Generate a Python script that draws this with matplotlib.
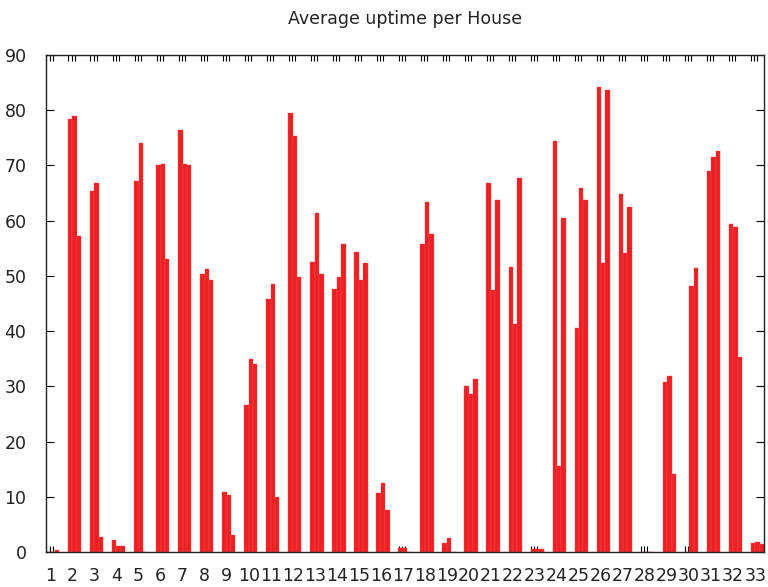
import matplotlib
matplotlib.use('Agg')
import matplotlib.pyplot as plt
import numpy as np

plt.rcParams['font.family'] = ['DejaVu Sans']

# casas (1..33) e as tres medias de uptime de cada uma
casas = [str(i) for i in range(1, 34)]
serie_a = [0, 78.5, 65.4, 2.2, 67.1, 70.1, 76.4, 50.4, 10.8, 26.7, 45.8,
           79.5, 52.6, 47.6, 54.4, 10.7, 0.7, 55.7, 1.7, 30.0, 66.8, 51.6,
           0.6, 74.5, 40.5, 84.2, 64.9, 0, 30.8, 0, 69.0, 59.4, 1.7]
serie_b = [0, 79.0, 66.9, 1.0, 74.1, 70.3, 70.3, 51.3, 10.4, 35.0, 48.6,
           75.3, 61.4, 49.8, 49.2, 12.5, 0.7, 63.3, 2.6, 28.7, 47.4, 41.2,
           0.6, 15.6, 65.9, 52.3, 54.2, 0, 31.8, 48.2, 71.6, 58.9, 1.9]
serie_c = [0.4, 57.2, 2.8, 1.0, 0, 53.1, 70.1, 49.2, 3.1, 34.0, 9.9,
           49.8, 50.4, 55.8, 52.4, 7.6, 0, 57.5, 0, 31.4, 63.8, 67.7,
           0.6, 60.5, 63.8, 83.7, 62.4, 0, 14.1, 51.5, 72.7, 35.3, 1.4]

VERMELHO = '#ed2024'

fig = plt.figure(figsize=(7.68, 5.87), dpi=100)
ax = fig.add_axes([0.0599, 0.0596, 0.9349, 0.8467])

x = np.arange(len(casas))
largura = 0.2
for k, serie in enumerate([serie_a, serie_b, serie_c]):
    ax.bar(x + (k - 1) * largura, serie, width=largura, color=VERMELHO,
           edgecolor='#f05050', linewidth=0.3, zorder=2)

ax.set_xlim(-0.3, len(casas) - 1 + 0.3)
ax.set_ylim(0, 90)
ax.set_axisbelow(True)

# ticks estilo gnuplot
ax.set_xticks(x - 0.1)
ax.set_xticklabels(casas)
ax.set_xticks(np.concatenate([x - 0.28, x - 0.14, x + 0.0]), minor=True)
ax.tick_params(axis='x', which='major', length=0, pad=11, labelsize=12.5,
               labelcolor='#222222')
ax.tick_params(axis='x', which='minor', direction='in', length=4, width=0.8,
               top=True, bottom=True)
ax.set_yticks(np.arange(0, 91, 10))
ax.tick_params(axis='y', which='major', direction='in', length=6, width=0.8,
               left=True, right=True, pad=14, labelsize=12.5, labelcolor='#222222')

for s in ax.spines.values():
    s.set_linewidth(1.0)
    s.set_color('#222222')

ax.set_title('Average uptime per House', fontsize=12.5, color='#222222', pad=22)

plt.savefig('out.png', dpi=100)
